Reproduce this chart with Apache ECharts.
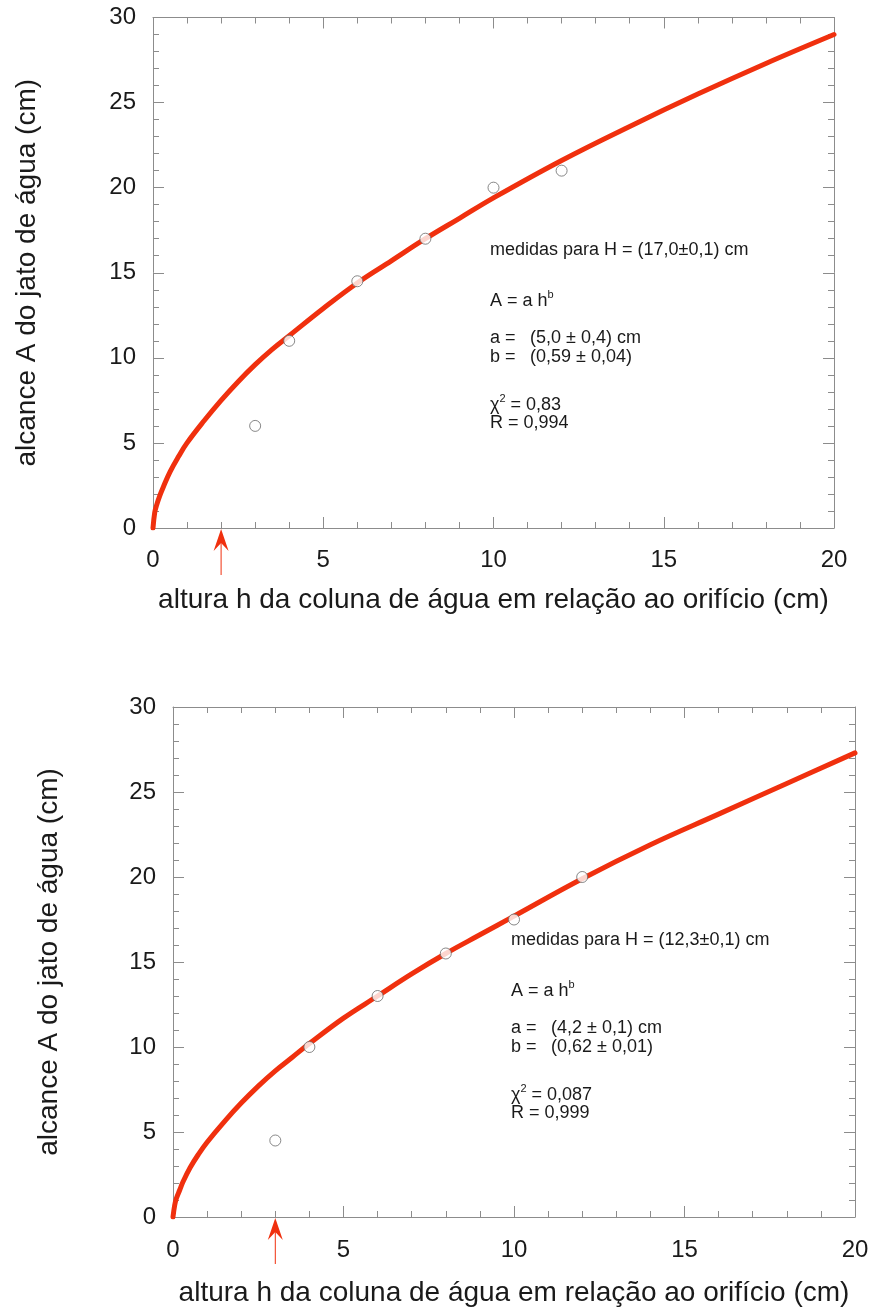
<!DOCTYPE html>
<html>
<head>
<meta charset="utf-8">
<title>alcance do jato de água</title>
<script src="https://cdn.jsdelivr.net/npm/echarts@6/dist/echarts.min.js"></script>
<style>
  html, body { margin: 0; padding: 0; background: #fff; }
  #chart { width: 872px; height: 1311px; }
</style>
</head>
<body>
<div id="chart"></div>
<script>
// measured points (h, A) for each hole height H
const hPts1 = [3, 4, 6, 8, 10, 12]
const aPts1 = [6, 11, 14.5, 17, 20, 21]
const hPts2 = [3, 4, 6, 8, 10, 12]
const aPts2 = [4.5, 10, 13, 15.5, 17.5, 20]

// fitted curve A = a h^b
const fitH = [0, 0.05, 0.1, 0.2, 0.3, 0.5, 0.75, 1, 1.5, 2, 2.5, 3, 3.5, 4, 5, 6, 7, 8, 9, 10, 12, 14, 16, 18, 20]
const fitA1 = [0, 0.9, 1.3, 1.9, 2.4, 3.3, 4.2, 5.0, 6.3, 7.5, 8.6, 9.6, 10.5, 11.3, 12.9, 14.4, 15.7, 17.0, 18.2, 19.4, 21.6, 23.6, 25.5, 27.3, 29.0]
const fitA2 = [0, 0.7, 1.1, 1.6, 2.1, 2.9, 3.7, 4.4, 5.6, 6.7, 7.7, 8.6, 9.4, 10.2, 11.7, 13.0, 14.3, 15.5, 16.6, 17.7, 19.9, 21.9, 23.7, 25.5, 27.3]

// red arrows under the x axis
const arrowH1 = 2
const arrowH2 = 3

// annotation texts
const noteTitle = ['medidas para H = (17,0±0,1) cm', 'medidas para H = (12,3±0,1) cm']
const noteA = ['(5,0 ± 0,4) cm', '(4,2 ± 0,1) cm']
const noteB = ['(0,59 ± 0,04)', '(0,62 ± 0,01)']
const noteChi = ['0,83', '0,087']
const noteR = ['0,994', '0,999']

const xName = 'altura h da coluna de água em relação ao orifício (cm)'
const yName = 'alcance A do jato de água (cm)'

const FONT = "'Liberation Sans', Arial, Helvetica, sans-serif"
const AXIS_GREY = '#8c8c8c'
const RED = '#f0300e'
const TEXT = '#1a1a1a'

const zip = (xs, ys) => xs.map((x, i) => [x, ys[i]])

const tickCfg = { show: true, inside: true, length: 11, lineStyle: { color: AXIS_GREY } }
const minorCfg = { show: true, splitNumber: 5, length: 6, lineStyle: { color: AXIS_GREY } }

function xAx(grid, pos, labels, margin, nameGap) {
  return {
    type: 'value', gridIndex: grid, position: pos, min: 0, max: 20, interval: 5,
    axisLine: { show: true, onZero: false, lineStyle: { color: AXIS_GREY, width: 1 } },
    axisTick: tickCfg, minorTick: minorCfg,
    splitLine: { show: false }, minorSplitLine: { show: false },
    axisLabel: { show: labels, margin: margin, fontSize: 24, fontFamily: FONT, color: TEXT },
    name: labels ? xName : '', nameLocation: 'middle', nameGap: nameGap,
    nameTextStyle: { fontSize: 28, fontFamily: FONT, color: TEXT },
  }
}

function yAx(grid, pos, labels, nameGap) {
  return {
    type: 'value', gridIndex: grid, position: pos, min: 0, max: 30, interval: 5,
    axisLine: { show: true, onZero: false, lineStyle: { color: AXIS_GREY, width: 1 } },
    axisTick: tickCfg, minorTick: minorCfg,
    splitLine: { show: false }, minorSplitLine: { show: false },
    axisLabel: { show: labels, margin: 17, fontSize: 24, fontFamily: FONT, color: TEXT },
    name: labels ? yName : '', nameLocation: 'middle', nameGap: nameGap,
    nameTextStyle: { fontSize: 28, fontFamily: FONT, color: TEXT },
  }
}

function curve(grid, data) {
  return {
    type: 'line', xAxisIndex: grid * 2, yAxisIndex: grid * 2,
    data: data, smooth: 0.4, showSymbol: false, z: 2,
    lineStyle: { color: RED, width: 5, cap: 'round' },
  }
}

function points(grid, data) {
  return {
    type: 'scatter', xAxisIndex: grid * 2, yAxisIndex: grid * 2,
    data: data, symbol: 'circle', symbolSize: 11, z: 3,
    itemStyle: { color: '#fff', borderColor: '#6a6a6a', borderWidth: 1 },
  }
}

const chart = echarts.init(document.getElementById('chart'))

chart.setOption({
  animation: false,
  backgroundColor: '#fff',
  grid: [
    { left: 153, top: 17.5, width: 681, height: 510.5 },
    { left: 173, top: 707, width: 682, height: 510 },
  ],
  xAxis: [
    xAx(0, 'bottom', true, 20, 58), xAx(0, 'top', false, 0, 0),
    xAx(1, 'bottom', true, 21, 62), xAx(1, 'top', false, 0, 0),
  ],
  yAxis: [
    yAx(0, 'left', true, 112), yAx(0, 'right', false, 0),
    yAx(1, 'left', true, 110), yAx(1, 'right', false, 0),
  ],
  series: [
    curve(0, zip(fitH, fitA1)), points(0, zip(hPts1, aPts1)),
    curve(1, zip(fitH, fitA2)), points(1, zip(hPts2, aPts2)),
  ],
})

// arrows and text boxes placed from the axes' own pixel mapping
function arrow(grid, h) {
  const [px, py] = chart.convertToPixel({ xAxisIndex: grid * 2, yAxisIndex: grid * 2 }, [h, 0])
  return [
    { type: 'line', shape: { x1: px, y1: py + 12, x2: px, y2: py + 47 }, style: { stroke: RED, lineWidth: 1 } },
    { type: 'polygon', shape: { points: [[px, py + 1], [px + 7.5, py + 23], [px, py + 15], [px - 7.5, py + 23]] }, style: { fill: RED } },
  ]
}

function notes(i, x, y) {
  const base = { fill: TEXT, fontFamily: FONT, fontSize: 18, textVerticalAlign: 'middle' }
  const rich = {
    n: { fontSize: 18, fontFamily: FONT, fill: TEXT, lineHeight: 24 },
    s: { fontSize: 11, fontFamily: FONT, fill: TEXT, verticalAlign: 'top', lineHeight: 24 },
  }
  const t = (dx, dy, text) => ({ type: 'text', style: Object.assign({ x: x + dx, y: y + dy, text: text }, base) })
  return [
    t(0, 0, noteTitle[i]),
    { type: 'text', style: Object.assign({ x: x, y: y + 51, text: '{n|A = a h}{s|b}', rich: rich }, base) },
    t(0, 88, 'a ='), t(40, 88, noteA[i]),
    t(0, 107, 'b ='), t(40, 107, noteB[i]),
    { type: 'text', style: Object.assign({ x: x, y: y + 155, text: '{n|χ}{s|2}{n| = ' + noteChi[i] + '}', rich: rich }, base) },
    t(0, 173, 'R = ' + noteR[i]),
  ]
}

chart.setOption({
  graphic: [
    ...arrow(0, arrowH1), ...arrow(1, arrowH2),
    ...notes(0, 490, 250), ...notes(1, 511, 940),
  ],
})
</script>
</body>
</html>
